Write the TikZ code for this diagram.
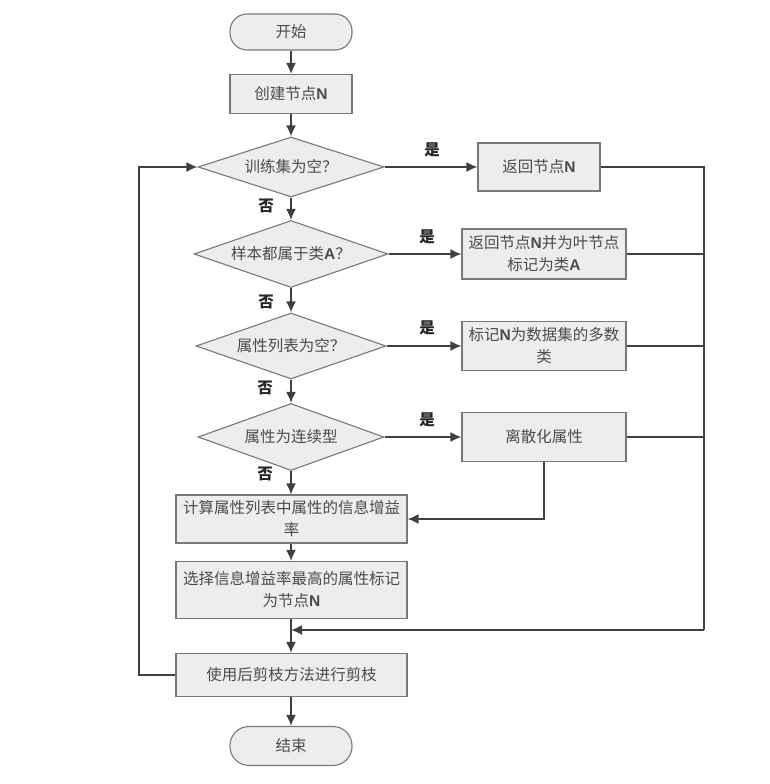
\documentclass[tikz,border=0pt]{standalone}
\usepackage{fontspec}
\setmainfont{Noto Sans CJK SC}
\newfontfamily\latinsans{Liberation Sans}
\usetikzlibrary{shapes.geometric,arrows.meta}
\definecolor{boxfill}{RGB}{237,237,237}
\definecolor{boxline}{RGB}{120,120,120}
\definecolor{conn}{RGB}{64,64,64}
\definecolor{txt}{RGB}{75,75,75}
\newcommand\myN{{\latinsans\bfseries N}}
\newcommand\myA{{\latinsans\bfseries A}}
\begin{document}
\begin{tikzpicture}[x=1pt,y=-1pt,
  every node/.style={font=\fontsize{15.5}{22}\selectfont, text=txt},
  base/.style={draw=boxline, line width=1.1pt, fill=boxfill},
  term/.style={base, rounded corners=17pt, minimum width=122pt, minimum height=36pt, inner sep=0pt},
  proc/.style={base, minimum width=122pt, minimum height=39pt, inner sep=0pt, align=center},
  wide/.style={base, minimum width=164pt, minimum height=49pt, inner sep=0pt, align=center},
  low/.style={base, minimum width=231pt, inner sep=0pt, align=center},
  dec/.style={base, diamond, inner sep=0pt},
  yn/.style={font=\fontsize{15.5}{18}\selectfont\bfseries, text=black!85},
  conn/.style={draw=conn, line width=1.7pt},
  arr/.style={conn, -{Latex[length=11pt,width=10pt]}}
]
\useasboundingbox (0,0) rectangle (769,784);

% main column
\node[term] (start) at (291,32) {开始};
\node[proc] (create) at (291,94) {创建节点\myN};
\node[dec, minimum width=186pt, minimum height=60pt] (d1) at (291,167) {};
\node at (d1) {训练集为空？};
\node[dec, minimum width=194pt, minimum height=67pt] (d2) at (291,254) {};
\node at (d2) {样本都属于类\myA？};
\node[dec, minimum width=190pt, minimum height=66pt] (d3) at (291,346) {};
\node at (d3) {属性列表为空？};
\node[dec, minimum width=186pt, minimum height=67pt] (d4) at (291,437) {};
\node at (d4) {属性为连续型};
\node[low, minimum height=48pt] (calc) at (291.5,519) {计算属性列表中属性的信息增益\\率};
\node[low, minimum height=57pt] (sel) at (291.5,590) {选择信息增益率最高的属性标记\\为节点\myN};
\node[low, minimum height=43pt] (prune) at (291.5,675) {使用后剪枝方法进行剪枝};
\node[term, minimum height=39pt, rounded corners=19pt] (end) at (291,746) {结束};

% right column
\node[proc, minimum height=48pt] (r1) at (539,167) {返回节点\myN};
\node[wide, minimum height=50pt] (r2) at (544,254) {返回节点\myN 并为叶节点\\标记为类\myA};
\node[wide] (r3) at (544,346) {标记\myN 为数据集的多数\\类};
\node[wide] (r4) at (544,437) {离散化属性};

% yes / no labels
\node[yn] (n1) at (266,206) {否};
\node[yn] (n2) at (266,302) {否};
\node[yn] (n3) at (265,388) {否};
\node[yn] (n4) at (265,474) {否};
\node[yn] (y1) at (432,150) {是};
\node[yn] (y2) at (427,237) {是};
\node[yn] (y3) at (427,328) {是};
\node[yn] (y4) at (427,420) {是};

\coordinate (rt) at (704,167);
\coordinate (rb) at (704,630);
\coordinate (mj) at (291,630);
\coordinate (lb) at (139,675);
\coordinate (lt) at (139,167);

% main flow
\draw[arr] (start) -- (create);
\draw[arr] (create) -- (d1.north);
\draw[arr] (d1.south) -- (d2.north);
\draw[arr] (d2.south) -- (d3.north);
\draw[arr] (d3.south) -- (d4.north);
\draw[arr] (d4.south) -- (calc.north -| d4.south);
\draw[arr] (calc.south -| create) -- (sel.north -| create);
\draw[arr] (sel.south -| create) -- (prune.north -| create);
\draw[arr] (prune.south -| create) -- (end.north);

% yes branches
\draw[arr] (d1.east) -- (r1.west);
\draw[arr] (d2.east) -- (r2.west);
\draw[arr] (d3.east) -- (r3.west);
\draw[arr] (d4.east) -- (r4.west);

% right collector
\draw[conn] (r1.east) -- (rt) -- (rb);
\draw[arr] (rb) -- (mj);
\draw[conn] (r2.east) -- (r2.east -| rt);
\draw[conn] (r3.east) -- (r3.east -| rt);
\draw[conn] (r4.east) -- (r4.east -| rt);
\draw[arr] (r4.south) -- (r4.south |- calc.east) -- (calc.east);

% loop back
\draw[arr] (prune.west) -- (lb) -- (lt) -- (d1.west);
\end{tikzpicture}
\end{document}
